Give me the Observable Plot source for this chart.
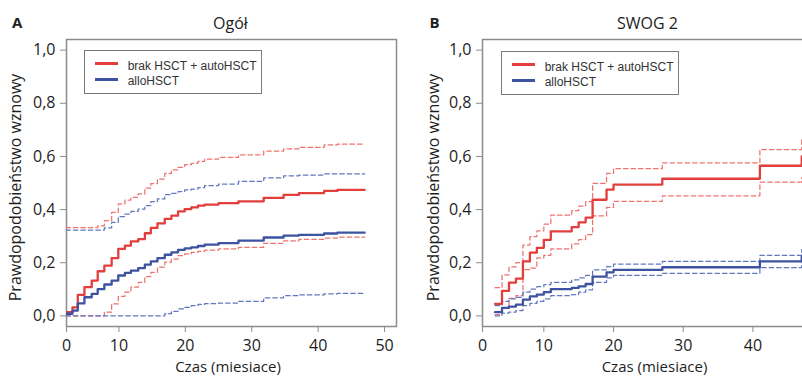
<!DOCTYPE html>
<html><head><meta charset="utf-8">
<script src="https://cdn.jsdelivr.net/npm/d3@7"></script>
<script src="https://cdn.jsdelivr.net/npm/@observablehq/plot@0.6"></script>
<style>
html,body{margin:0;padding:0;background:#fff;}
body{width:802px;height:376px;overflow:hidden;position:relative;font-family:"Open Sans",sans-serif;}
.panel{position:absolute;top:0;}
.panel svg{max-width:none !important;}
.legend{position:absolute;border:1.3px solid #7a7a7a;box-sizing:border-box;width:178px;height:44px;background:#fff;font-family:"Liberation Sans",Arial,sans-serif;font-size:12px;color:#333;}
.legend .ln{position:absolute;left:9.7px;width:23px;height:3px;}
.legend .tx{position:absolute;left:42.7px;line-height:12px;white-space:nowrap;}
</style></head><body>
<div id="pa" class="panel" style="left:0px;width:400px"></div>
<div id="pb" class="panel" style="left:400px;width:432px"></div>
<script>
// ---- data ----
const seriesNames = ["brak HSCT + autoHSCT", "alloHSCT"];
const mainColors = ["#e23f3c", "#3d52a0"];
const ciColors = ["#ee7370", "#6278bd"];
const yTicks = [0, 0.2, 0.4, 0.6, 0.8, 1.0];
const xTicksA = [10, 20, 30, 40, 50];
const xTicksB = [10, 20, 30, 40];

// Panel A: "Ogół"
const timeA = [2, 3, 3.8, 4.8, 5.9, 6.8, 7.8, 8.9, 9.9, 10.9, 11.8, 12.9, 13.9, 14.8, 15.8, 16.9, 17.9, 18.9, 19.9, 20.9, 21.9, 22.9, 25, 28, 31.8, 34.8, 37.1, 40.9, 42.9, 47];
const aRed   = [0.014,0.032,0.079,0.108,0.133,0.168,0.189,0.217,0.252,0.264,0.280,0.289,0.311,0.331,0.348,0.365,0.377,0.393,0.402,0.408,0.415,0.419,0.424,0.431,0.444,0.455,0.462,0.470,0.474,0.474];
const aRedHi = [0.332,0.332,0.332,0.332,0.332,0.339,0.358,0.389,0.421,0.436,0.446,0.459,0.481,0.498,0.515,0.536,0.549,0.559,0.569,0.574,0.581,0.590,0.596,0.606,0.620,0.628,0.634,0.643,0.646,0.646];
const aRedLo = [0,0,0,0,0,0,0.014,0.045,0.073,0.089,0.108,0.126,0.148,0.164,0.183,0.202,0.214,0.227,0.233,0.239,0.243,0.247,0.252,0.258,0.273,0.282,0.288,0.293,0.296,0.296];
const aBlue   = [0.008,0.020,0.047,0.070,0.083,0.101,0.118,0.133,0.152,0.162,0.170,0.180,0.193,0.205,0.217,0.230,0.239,0.248,0.254,0.258,0.263,0.268,0.274,0.283,0.295,0.302,0.305,0.310,0.313,0.313];
const aBlueHi = [0.323,0.323,0.323,0.323,0.323,0.323,0.331,0.352,0.373,0.383,0.393,0.402,0.415,0.430,0.440,0.456,0.461,0.468,0.474,0.477,0.483,0.490,0.496,0.506,0.519,0.527,0.530,0.534,0.534,0.534];
const aBlueLo = [0,0,0,0,0,0,0,0,0,0,0,0,0,0,0,0.008,0.017,0.026,0.032,0.039,0.043,0.046,0.048,0.055,0.068,0.076,0.079,0.083,0.085,0.087];

// Panel B: "SWOG 2"
const timeB = [3, 4, 5, 6, 7, 8, 9, 10, 11, 14, 15, 16, 17, 19, 20, 27, 41, 47];
const bRed   = [0.045,0.094,0.125,0.140,0.205,0.238,0.256,0.286,0.318,0.334,0.352,0.370,0.437,0.475,0.494,0.516,0.565,0.600];
const bRedHi = [0.106,0.154,0.184,0.200,0.266,0.298,0.320,0.345,0.379,0.396,0.413,0.430,0.499,0.536,0.554,0.576,0.626,0.666];
const bRedLo = [0.005,0.030,0.066,0.076,0.174,0.180,0.218,0.228,0.252,0.271,0.287,0.306,0.376,0.408,0.431,0.452,0.503,0.520];
const bBlue   = [0.014,0.030,0.035,0.042,0.061,0.073,0.080,0.089,0.101,0.105,0.111,0.120,0.148,0.164,0.173,0.183,0.205,0.223];
const bBlueHi = [0.039,0.055,0.064,0.070,0.089,0.101,0.110,0.118,0.126,0.135,0.143,0.152,0.173,0.185,0.195,0.205,0.228,0.249];
const bBlueLo = [0.000,0.010,0.014,0.020,0.039,0.047,0.055,0.064,0.076,0.080,0.089,0.098,0.126,0.143,0.152,0.160,0.182,0.200];
const bEnd = 49; // curves continue past the cropped right edge

// ---- helpers ----
function rows(times, vals, endT) {
  const r = times.map((t, i) => ({t, v: vals[i]}));
  if (endT != null) r.push({t: endT, v: vals[vals.length - 1]});
  return r;
}
const fmtY = d => d.toFixed(1).replace(".", ",");

function panel(cfg) {
  const {letter, title, times, main, lo, hi, endT, xDomain, xTicks, width, marginLeft, marginRight,
         letterX, titleX, yLabelX, xLabelX} = cfg;
  const marks = [Plot.frame({stroke: "#8c8c8c", strokeWidth: 1.5})];
  [0, 1].forEach(i => {
    marks.push(Plot.line(rows(times, hi[i], endT), {x: "t", y: "v", stroke: ciColors[i], strokeWidth: 1.25, strokeDasharray: "4.5,3", curve: "step-after", clip: true}));
    marks.push(Plot.line(rows(times, lo[i], endT), {x: "t", y: "v", stroke: ciColors[i], strokeWidth: 1.25, strokeDasharray: "4.5,3", curve: "step-after", clip: true}));
  });
  [0, 1].forEach(i => {
    marks.push(Plot.line(rows(times, main[i], endT), {x: "t", y: "v", stroke: mainColors[i], strokeWidth: 2.3, curve: "step-after", clip: true}));
  });
  const x0 = xDomain[0];
  marks.push(
    Plot.axisX({ticks: [x0, ...xTicks], tickFormat: d => d === x0 ? "0" : String(d), tickSize: 6, tickPadding: 7, stroke: "#8c8c8c", label: null}),
    Plot.axisY({ticks: yTicks, tickFormat: fmtY, tickSize: 6, tickPadding: 5, stroke: "#8c8c8c", label: null}),
    Plot.text([title], {text: d => d, frameAnchor: "top-left", dx: titleX - marginLeft, dy: -10.7, textAnchor: "middle", lineAnchor: "bottom", fontSize: 16}),
    Plot.text([letter], {text: d => d, frameAnchor: "top-left", dx: letterX - marginLeft, dy: -12, textAnchor: "start", lineAnchor: "bottom", fontSize: 15, fontWeight: "bold"}),
    Plot.text(["Prawdopodobieństwo wznowy"], {text: d => d, frameAnchor: "left", rotate: -90, dx: yLabelX - marginLeft, dy: 4.5, textAnchor: "middle", lineAnchor: "bottom", fontSize: 16}),
    Plot.text(["Czas (miesiace)"], {text: d => d, frameAnchor: "bottom-left", dx: xLabelX - marginLeft, dy: 45.5, textAnchor: "middle", lineAnchor: "bottom", fontSize: 15})
  );
  return Plot.plot({
    width, height: 376, marginTop: 39, marginBottom: 50, marginLeft, marginRight,
    x: {domain: xDomain},
    y: {domain: [-0.04, 1.04]},
    style: {fontFamily: "'Open Sans', sans-serif", fontSize: "16px", color: "#1e1e1e", background: "transparent", overflow: "visible", maxWidth: "none"},
    marks
  });
}

function legend(parent, left, top) {
  const box = document.createElement("div");
  box.className = "legend";
  box.style.left = left + "px";
  box.style.top = top + "px";
  seriesNames.forEach((name, i) => {
    const ln = document.createElement("div");
    ln.className = "ln";
    ln.style.top = (11.2 + i * 16) + "px";
    ln.style.background = mainColors[i];
    const tx = document.createElement("div");
    tx.className = "tx";
    tx.style.top = (8.5 + i * 15) + "px";
    tx.textContent = name;
    box.appendChild(ln);
    box.appendChild(tx);
  });
  parent.appendChild(box);
}

document.getElementById("pa").appendChild(panel({
  letter: "A", title: "Ogół", times: timeA,
  main: [aRed, aBlue], lo: [aRedLo, aBlueLo], hi: [aRedHi, aBlueHi], endT: null,
  xDomain: [2.1, 51.8], xTicks: xTicksA, width: 400, marginLeft: 66, marginRight: 4,
  letterX: 11.5, titleX: 230, yLabelX: 20.5, xLabelX: 227.5
}));
document.getElementById("pb").appendChild(panel({
  letter: "B", title: "SWOG 2", times: timeB,
  main: [bRed, bBlue], lo: [bRedLo, bBlueLo], hi: [bRedHi, bBlueHi], endT: bEnd,
  xDomain: [1.2, 48.55], xTicks: xTicksB, width: 432, marginLeft: 82, marginRight: 20,
  letterX: 29, titleX: 247, yLabelX: 38, xLabelX: 254
}));
legend(document.body, 84, 50);
legend(document.body, 501, 51);
</script></body></html>
